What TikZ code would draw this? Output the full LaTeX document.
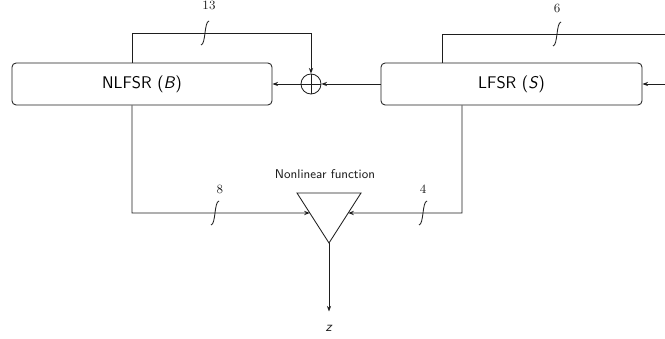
\documentclass[tikz,border=0pt]{standalone}
\usetikzlibrary{arrows.meta,calc}
\definecolor{Ink}{HTML}{1E1E1E}
\begin{document}
\begin{tikzpicture}[x=0.025cm,y=-0.025cm,font=\sffamily,wire/.style={draw=Ink, line width=0.6pt},feed/.style={wire, -{Stealth[length=4pt,width=3pt]}},reg/.style={draw=Ink, line width=0.6pt, rounded corners=3pt, minimum height=1.05cm, inner sep=0pt, font=\sffamily\large},num/.style={font=\rmfamily\small, text=Ink},pics/bus/.style={code={\draw[wire] (-4,12) .. controls (1,11) and (-1,-11) .. (4,-12);}}]
\fill[white] (0,0) rectangle (665,339);
\useasboundingbox (0,0) rectangle (665,339);
% registers and the xor
\node[reg, minimum width=6.5cm] (nlfsr) at (142,84) {NLFSR (\textsl{B})};
\node[reg, minimum width=6.525cm] (lfsr) at (511.5,84) {LFSR (\textsl{S})};
\node[circle, draw=Ink, line width=0.6pt, minimum size=0.5cm, inner sep=0pt] (xor) at (311,84) {};
\draw[wire] (xor.north) -- (xor.south) (xor.west) -- (xor.east);
% nonlinear function
\draw[wire] (297,193) coordinate (tl) -- (361,193) coordinate (tr) -- (329,243) coordinate (apex) -- cycle;
\node[font=\sffamily\small, text=Ink] (nlf) at (325,174) {Nonlinear function};
\coordinate (inL) at ($(tl)!0.4!(apex)$);
\coordinate (inR) at ($(tr)!0.4!(apex)$);
\coordinate (fbB) at (132,33); \coordinate (fbS) at (442,34); \coordinate (topR) at (665,34); \coordinate (feedR) at (665,84);
\coordinate (outB) at (132,213); \coordinate (outS) at (462,213);
\node[font=\sffamily\normalsize, text=Ink] (z) at (329,328) {\textsl{z}};
% wires
\draw[feed] (fbB |- nlfsr.north) -- (fbB) -| (xor.north);
\draw[wire] (fbS |- lfsr.north) -- (fbS) -- (topR);
\draw[feed] (feedR) -- (lfsr.east);
\draw[feed] (lfsr.west) -- (xor.east);
\draw[feed] (xor.west) -- (nlfsr.east);
\draw[feed] (outB |- nlfsr.south) -- (outB) -- (inL);
\draw[feed] (outS |- lfsr.south) -- (outS) -- (inR);
\draw[feed, shorten >=6pt] (apex) -- (z);
% bus widths
\pic at (205,33) {bus}; \node[num] (w13) at (209,5) {13};
\pic at (557,34) {bus}; \node[num] (w6) at (557,8) {6};
\pic at (215,213) {bus}; \node[num] (w8) at (220,189) {8};
\pic at (423,213) {bus}; \node[num] (w4) at (423,189) {4};
\end{tikzpicture}
\end{document}
